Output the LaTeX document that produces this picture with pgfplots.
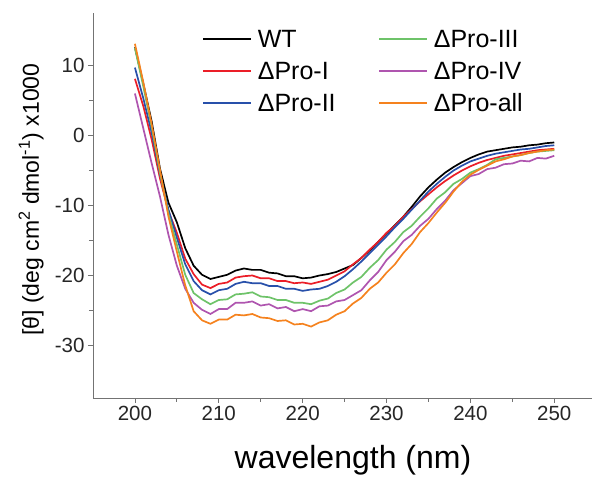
\documentclass[border=0pt]{standalone}
\usepackage{pgfplots}
\usepackage{pgfplotstable}
\pgfplotsset{compat=1.18}
\usepackage{fontspec}
\setmainfont{Liberation Sans}

\definecolor{cWT}{RGB}{0,0,0}
\definecolor{cI}{RGB}{235,30,40}
\definecolor{cII}{RGB}{40,80,170}
\definecolor{cIII}{RGB}{110,195,105}
\definecolor{cIV}{RGB}{175,85,175}
\definecolor{cAll}{RGB}{245,130,30}

\pgfplotstableread{
lam wt p1 p2 p3 p4 pall
200 12.6 8.1 9.7 12.5 6.0 13.1
201 7.4 4.2 5.3 7.0 1.0 7.6
202 2.0 -0.6 0.4 1.2 -4.0 1.6
203 -4.8 -6.2 -5.6 -5.4 -8.8 -5.0
204 -9.6 -10.8 -10.6 -11.2 -14.2 -11.6
205 -12.4 -13.9 -14.6 -15.6 -18.6 -16.6
206 -16.1 -17.6 -18.4 -19.9 -21.9 -21.4
207 -18.6 -19.8 -20.8 -22.5 -23.9 -25.1
208 -19.9 -21.3 -22.1 -23.4 -24.9 -26.4
209 -20.5 -21.8 -22.7 -24.1 -25.5 -26.9
210 -20.2 -21.2 -22.1 -23.5 -24.8 -26.3
211 -19.9 -21.0 -21.9 -23.4 -24.8 -26.3
212 -19.3 -20.3 -21.2 -22.7 -23.9 -25.6
213 -19.0 -20.1 -20.9 -22.6 -23.9 -25.7
214 -19.2 -20.0 -21.1 -22.4 -23.7 -25.5
215 -19.2 -20.4 -21.1 -23.0 -24.3 -26.0
216 -19.6 -20.4 -21.5 -23.1 -24.1 -26.1
217 -19.7 -20.8 -21.5 -23.5 -24.7 -26.5
218 -20.1 -20.8 -21.9 -23.5 -24.5 -26.4
219 -20.1 -21.1 -21.9 -23.9 -25.1 -27.0
220 -20.4 -21.0 -22.2 -23.9 -24.8 -26.9
221 -20.3 -21.2 -22.0 -24.1 -25.1 -27.3
222 -20.0 -20.9 -21.9 -23.6 -24.4 -26.7
223 -19.8 -20.6 -21.5 -23.3 -24.3 -26.4
224 -19.5 -20.0 -20.9 -22.5 -23.7 -25.6
225 -19.0 -19.4 -20.1 -22.0 -23.5 -25.1
226 -18.5 -18.4 -19.1 -21.0 -22.8 -24.0
227 -17.5 -17.5 -18.0 -20.2 -22.1 -23.2
228 -16.4 -16.3 -16.8 -18.9 -20.7 -21.9
229 -15.2 -15.2 -15.6 -17.8 -19.5 -21.0
230 -14.0 -13.9 -14.4 -16.3 -17.8 -19.6
231 -12.8 -12.9 -13.1 -15.2 -16.6 -18.4
232 -11.6 -11.6 -11.9 -13.8 -15.1 -16.8
233 -10.2 -10.5 -10.6 -12.9 -14.2 -15.5
234 -8.7 -9.4 -9.3 -11.6 -12.9 -13.8
235 -7.4 -8.4 -8.0 -10.4 -11.9 -12.5
236 -6.3 -7.4 -6.9 -9.0 -10.5 -11.0
237 -5.3 -6.5 -5.9 -8.1 -9.3 -9.6
238 -4.5 -5.7 -5.0 -6.9 -7.8 -8.0
239 -3.8 -5.0 -4.3 -6.2 -6.8 -6.6
240 -3.2 -4.4 -3.7 -5.3 -5.8 -5.6
241 -2.7 -3.9 -3.3 -4.8 -5.5 -4.9
242 -2.3 -3.5 -2.9 -4.2 -4.8 -4.3
243 -2.1 -3.2 -2.6 -3.4 -4.6 -3.7
244 -1.9 -2.9 -2.4 -3.2 -4.1 -3.4
245 -1.7 -2.7 -2.2 -3.0 -4.0 -3.0
246 -1.6 -2.5 -2.0 -2.8 -3.6 -2.8
247 -1.4 -2.3 -1.9 -2.5 -3.7 -2.5
248 -1.3 -2.1 -1.7 -2.3 -3.2 -2.3
249 -1.1 -2.0 -1.5 -2.2 -3.3 -2.1
250 -1.0 -1.9 -1.4 -2.1 -2.9 -2.0
}\cddata

\begin{document}
\begin{tikzpicture}
\begin{axis}[
  scale only axis, width=499pt, height=385pt,
  xmin=195, xmax=254.5, ymin=-37.5, ymax=17.5,
  axis x line*=bottom, axis y line*=left,
  axis line style={black!55, line width=0.8pt},
  xtick={200,210,...,250}, xticklabels={200,210,220,230,240,250},
  ytick={-30,-20,...,10}, yticklabels={-30,-20,-10,0,10},
  minor x tick num=1, minor y tick num=1,
  tick align=outside, major tick length=5pt, minor tick length=4pt,
  tick style={black!55, line width=0.8pt},
  tick label style={font=\fontsize{20.5}{24}\selectfont, text=black!85},
  xlabel={wavelength (nm)},
  xlabel style={font=\fontsize{32}{36}\selectfont, at={(axis description cs:0.521,-0.161)}, anchor=center},
  ylabel={[θ] (deg cm\textsuperscript{2} dmol\textsuperscript{-1}) x1000},
  ylabel style={font=\fontsize{23}{27}\selectfont, at={(axis description cs:-0.124,0.515)}, anchor=center, rotate=0},
  every axis plot/.append style={line width=1.7pt},
]
\addplot[cWT] table[x=lam, y=wt] {\cddata};
\addplot[cI] table[x=lam, y=p1] {\cddata};
\addplot[cII] table[x=lam, y=p2] {\cddata};
\addplot[cIII] table[x=lam, y=p3] {\cddata};
\addplot[cIV] table[x=lam, y=p4] {\cddata};
\addplot[cAll] table[x=lam, y=pall] {\cddata};
\end{axis}
% legend (key samples and names)
\begin{scope}[shift={(current axis.north west)}, every node/.style={anchor=west, inner sep=0pt, font=\fontsize{25}{29}\selectfont}]
  \draw[cWT,  line width=1.7pt] (110pt,-26pt) -- ++(48pt,0pt) node[right=6pt, text=black] {WT};
  \draw[cI,   line width=1.7pt] (110pt,-58pt) -- ++(48pt,0pt) node[right=6pt, text=black] {ΔPro-I};
  \draw[cII,  line width=1.7pt] (110pt,-90pt) -- ++(48pt,0pt) node[right=6pt, text=black] {ΔPro-II};
  \draw[cIII, line width=1.7pt] (286pt,-26pt) -- ++(48pt,0pt) node[right=6pt, text=black] {ΔPro-III};
  \draw[cIV,  line width=1.7pt] (286pt,-58pt) -- ++(48pt,0pt) node[right=6pt, text=black] {ΔPro-IV};
  \draw[cAll, line width=1.7pt] (286pt,-90pt) -- ++(48pt,0pt) node[right=6pt, text=black] {ΔPro-all};
\end{scope}
\pgfresetboundingbox
\path[use as bounding box] ([xshift=-93pt,yshift=-81pt]current axis.south west) rectangle ([yshift=13pt]current axis.north east);
\end{tikzpicture}
\end{document}
